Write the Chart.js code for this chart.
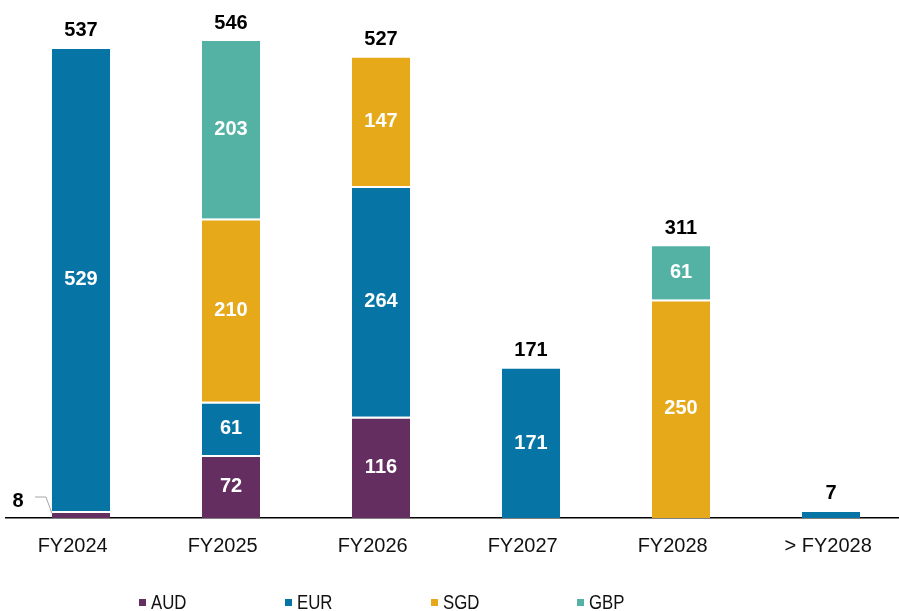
<!DOCTYPE html>
<html>
<head>
<meta charset="utf-8">
<script src="https://cdn.jsdelivr.net/npm/chart.js@4"></script>
<style>
    html, body { margin: 0; padding: 0; background: #fff; overflow: hidden; }
    #wrap { position: absolute; left: 0; top: 0; width: 907px; height: 611px; }
    #legend { position: absolute; left: 139px; top: 591px; display: flex; font-family: "Liberation Sans", Arial, sans-serif; font-size: 20px; color: #111; }
    #legend .item { width: 146px; display: flex; align-items: center; white-space: nowrap; }
    #legend .swatch { width: 7px; height: 7px; margin-right: 5px; flex: none; }
    #legend .name { display: inline-block; transform: scaleX(0.84); transform-origin: left center; }
</style>
</head>
<body>
<div id="wrap"><canvas id="maturityChart"></canvas></div>
<div id="legend"></div>
<script>
const categories = ['FY2024', 'FY2025', 'FY2026', 'FY2027', 'FY2028', '> FY2028'];
const audValues = [8, 72, 116, 0, 0, 0];
const eurValues = [529, 61, 264, 171, 0, 7];
const sgdValues = [0, 210, 147, 0, 250, 0];
const gbpValues = [0, 203, 0, 0, 61, 0];

const FONT = '"Liberation Sans", Arial, sans-serif';

const series = [
    { label: 'AUD', data: audValues, color: '#642f60' },
    { label: 'EUR', data: eurValues, color: '#0674a5' },
    { label: 'SGD', data: sgdValues, color: '#e5a91a' },
    { label: 'GBP', data: gbpValues, color: '#54b2a5' }
];

const totals = categories.map((_, i) => series.reduce((sum, s) => sum + s.data[i], 0));

// white gap on top of every segment that has another one stacked above it
function segmentBorder(ctx) {
    const i = ctx.dataIndex;
    const above = ctx.chart.data.datasets.slice(ctx.datasetIndex + 1).some(d => d.data[i] > 0);
    return above ? { top: 2, bottom: 0, left: 0, right: 0 } : 0;
}

const valueLabels = {
    id: 'valueLabels',
    afterDatasetsDraw(chart) {
        const { ctx } = chart;
        ctx.save();
        ctx.textAlign = 'center';
        ctx.textBaseline = 'middle';
        ctx.font = `bold 20px ${FONT}`;

        chart.data.datasets.forEach((ds, di) => {
            chart.getDatasetMeta(di).data.forEach((bar, i) => {
                const v = ds.data[i];
                if (!v) return;
                const h = bar.base - bar.y;
                const parts = chart.data.datasets.filter(d => d.data[i] > 0).length;
                if (h >= 22) {
                    ctx.fillStyle = '#fff';
                    ctx.fillText(v, bar.x, (bar.y + bar.base) / 2);
                } else if (parts > 1) {
                    // small slice: label on the left with a leader line
                    const left = bar.x - bar.width / 2;
                    const cy = (bar.y + bar.base) / 2;
                    ctx.strokeStyle = '#a6a6a6';
                    ctx.lineWidth = 1;
                    ctx.beginPath();
                    ctx.moveTo(left - 17, cy - 17.5);
                    ctx.lineTo(left - 6, cy - 17.5);
                    ctx.lineTo(left, cy - 1);
                    ctx.stroke();
                    ctx.fillStyle = '#000';
                    ctx.fillText(v, left - 34, cy - 13.5);
                }
            });
        });

        // stack totals above each bar
        const yScale = chart.scales.y;
        const meta0 = chart.getDatasetMeta(0);
        ctx.fillStyle = '#000';
        totals.forEach((t, i) => {
            const x = meta0.data[i].x;
            ctx.fillText(t, x, yScale.getPixelForValue(t) - 18);
        });
        ctx.restore();
    }
};

const chart = new Chart(document.getElementById('maturityChart'), {
    type: 'bar',
    data: {
        labels: categories,
        datasets: series.map(s => ({
            label: s.label,
            data: s.data,
            backgroundColor: s.color,
            borderColor: '#fff',
            borderWidth: segmentBorder,
            borderSkipped: false,
            categoryPercentage: 1,
            barPercentage: 0.387
        }))
    },
    options: {
        responsive: true,
        maintainAspectRatio: false,
        animation: false,
        layout: { padding: { left: 6, right: 1, top: 0, bottom: 37 } },
        plugins: {
            legend: { display: false },
            tooltip: { enabled: false }
        },
        scales: {
            x: {
                stacked: true,
                grid: { display: false, drawTicks: false },
                border: { display: true, color: '#000', width: 1.5 },
                ticks: {
                    color: '#111',
                    padding: 16,
                    font: { family: FONT, size: 20 },
                    // FY labels sit a little left of their bars
                    callback: (v, i) => categories[i] + (categories[i].startsWith('>') ? ' ' : '   ')
                }
            },
            y: {
                stacked: true,
                display: false,
                min: 0,
                max: 593
            }
        }
    },
    plugins: [valueLabels]
});

// legend row under the axis
const legendEl = document.getElementById('legend');
chart.data.datasets.forEach(ds => {
    legendEl.insertAdjacentHTML('beforeend',
        `<div class="item"><span class="swatch" style="background:${ds.backgroundColor}"></span><span class="name">${ds.label}</span></div>`);
});
</script>
</body>
</html>
